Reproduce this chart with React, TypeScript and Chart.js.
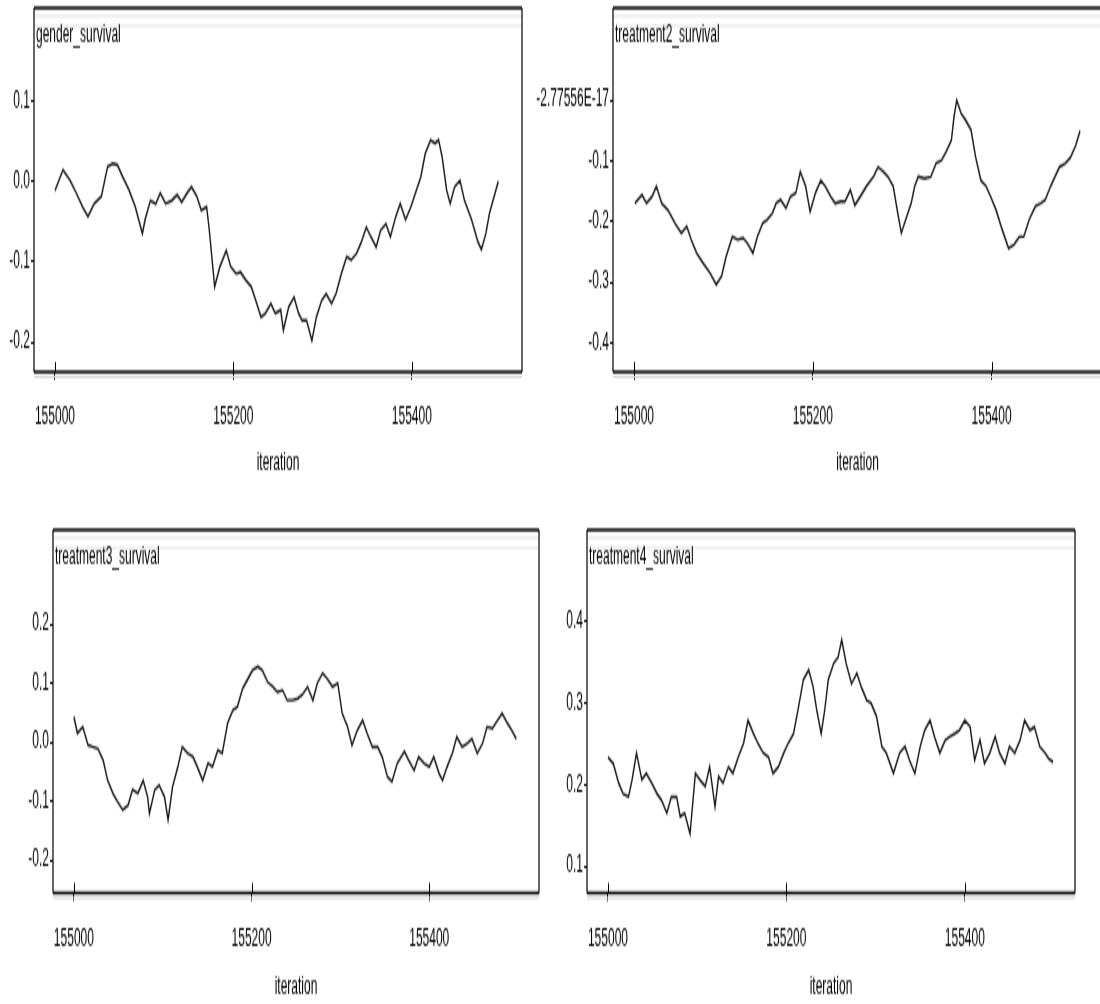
import React, { useEffect, useRef } from "react";
import { Chart, registerables } from "chart.js";

Chart.register(...registerables);

const FONT = "'Liberation Sans', Arial, Helvetica, sans-serif";
const firstIteration = 155000;

// x axis (shared)
const xTickValues = [155000, 155200, 155400];
const xTickLabels = ["155000", "155200", "155400"];
const xMin = 154976.5;
const xMax = 155523.5;

// gender_survival
const genderIterOffset = [0, 9, 17, 24, 31, 37, 44, 52, 59, 65, 70, 76, 83, 90, 98, 101, 107, 113, 118, 124, 131, 137, 142, 148, 153, 159, 164, 170, 173, 179, 185, 192, 197, 203, 208, 214, 220, 225, 231, 236, 242, 247, 253, 256, 262, 268, 273, 277, 282, 288, 293, 299, 304, 310, 315, 321, 327, 332, 338, 343, 349, 354, 360, 365, 371, 376, 382, 387, 393, 399, 404, 410, 415, 421, 426, 430, 434, 439, 443, 448, 454, 459, 467, 474, 478, 483, 487, 492, 497];
const genderValues = [-0.012, 0.014, 0.001, -0.015, -0.032, -0.044, -0.028, -0.019, 0.018, 0.022, 0.02, 0.005, -0.011, -0.032, -0.065, -0.048, -0.024, -0.028, -0.015, -0.028, -0.024, -0.017, -0.026, -0.015, -0.007, -0.019, -0.036, -0.032, -0.061, -0.131, -0.106, -0.086, -0.106, -0.115, -0.113, -0.123, -0.131, -0.148, -0.169, -0.164, -0.152, -0.164, -0.16, -0.185, -0.156, -0.144, -0.164, -0.173, -0.173, -0.198, -0.169, -0.148, -0.14, -0.152, -0.14, -0.115, -0.094, -0.098, -0.09, -0.077, -0.057, -0.069, -0.082, -0.061, -0.053, -0.069, -0.044, -0.028, -0.048, -0.032, -0.015, 0.005, 0.034, 0.051, 0.047, 0.051, 0.03, -0.011, -0.028, -0.007, 0.001, -0.024, -0.048, -0.075, -0.085, -0.065, -0.04, -0.02, 0.0];
const genderYTicks = [0.1, 0, -0.1, -0.2];
const genderYLabels = ["0.1", "0.0", "-0.1", "-0.2"];

// treatment2_survival
const t2IterOffset = [1, 9, 14, 20, 25, 31, 38, 46, 53, 59, 64, 70, 77, 85, 92, 98, 103, 110, 116, 122, 127, 133, 138, 144, 149, 155, 159, 164, 170, 175, 181, 186, 192, 197, 203, 209, 214, 220, 225, 231, 236, 242, 247, 253, 260, 268, 273, 279, 284, 290, 295, 299, 305, 310, 314, 318, 325, 332, 338, 344, 349, 355, 358, 361, 366, 371, 377, 382, 388, 394, 399, 405, 412, 419, 425, 431, 436, 442, 449, 455, 460, 466, 471, 476, 482, 488, 494, 499];
const t2Values = [-0.17, -0.156, -0.17, -0.159, -0.142, -0.17, -0.181, -0.203, -0.219, -0.208, -0.23, -0.252, -0.268, -0.285, -0.304, -0.29, -0.258, -0.225, -0.23, -0.227, -0.236, -0.252, -0.225, -0.203, -0.197, -0.186, -0.17, -0.164, -0.178, -0.159, -0.153, -0.118, -0.142, -0.184, -0.153, -0.132, -0.142, -0.159, -0.17, -0.167, -0.167, -0.148, -0.173, -0.159, -0.142, -0.126, -0.11, -0.118, -0.126, -0.142, -0.186, -0.219, -0.192, -0.17, -0.142, -0.126, -0.129, -0.126, -0.104, -0.099, -0.085, -0.066, -0.027, 0.0, -0.022, -0.033, -0.049, -0.093, -0.132, -0.142, -0.159, -0.181, -0.214, -0.244, -0.238, -0.225, -0.225, -0.197, -0.175, -0.17, -0.164, -0.142, -0.126, -0.11, -0.105, -0.095, -0.075, -0.05];
const t2YTicks = [0, -0.1, -0.2, -0.3, -0.4];
const t2YLabels = ["-2.77556E-17", "-0.1", "-0.2", "-0.3", "-0.4"];

// treatment3_survival
const t3IterOffset = [0, 4, 10, 16, 21, 27, 33, 38, 44, 49, 55, 61, 66, 72, 78, 83, 85, 91, 96, 102, 106, 111, 117, 122, 128, 134, 139, 145, 151, 156, 162, 167, 173, 179, 184, 190, 195, 201, 207, 212, 218, 224, 229, 235, 240, 246, 252, 257, 263, 269, 274, 280, 285, 291, 297, 302, 308, 313, 319, 325, 330, 336, 342, 347, 353, 358, 364, 372, 377, 383, 388, 394, 400, 405, 411, 415, 420, 426, 431, 437, 443, 448, 454, 460, 465, 471, 476, 482, 488, 493, 498];
const t3Values = [0.043, 0.015, 0.026, -0.005, -0.008, -0.011, -0.031, -0.065, -0.087, -0.101, -0.115, -0.107, -0.081, -0.087, -0.065, -0.093, -0.121, -0.081, -0.073, -0.093, -0.132, -0.076, -0.042, -0.008, -0.019, -0.025, -0.042, -0.065, -0.036, -0.042, -0.014, -0.019, 0.032, 0.054, 0.06, 0.091, 0.105, 0.122, 0.128, 0.122, 0.102, 0.094, 0.085, 0.088, 0.071, 0.071, 0.074, 0.08, 0.094, 0.071, 0.1, 0.117, 0.108, 0.094, 0.1, 0.049, 0.026, -0.005, 0.02, 0.037, 0.015, -0.008, -0.008, -0.025, -0.059, -0.067, -0.036, -0.016, -0.031, -0.048, -0.025, -0.036, -0.042, -0.025, -0.053, -0.065, -0.042, -0.019, 0.009, -0.008, -0.002, 0.006, -0.019, -0.002, 0.026, 0.023, 0.035, 0.049, 0.032, 0.02, 0.005];
const t3YTicks = [0.2, 0.1, 0, -0.1, -0.2];
const t3YLabels = ["0.2", "0.1", "0.0", "-0.1", "-0.2"];

// treatment4_survival
const t4IterOffset = [0, 6, 12, 17, 23, 27, 32, 38, 43, 49, 55, 60, 66, 71, 77, 81, 86, 92, 98, 103, 109, 114, 120, 124, 129, 135, 140, 146, 152, 157, 163, 168, 174, 180, 185, 191, 197, 202, 208, 213, 219, 225, 230, 234, 239, 243, 247, 253, 258, 262, 267, 273, 279, 284, 290, 295, 301, 307, 312, 320, 327, 333, 338, 344, 350, 355, 361, 366, 372, 378, 383, 389, 394, 400, 406, 411, 417, 422, 428, 434, 439, 445, 450, 456, 462, 467, 473, 478, 484, 490, 494, 499];
const t4Values = [0.234, 0.226, 0.202, 0.189, 0.185, 0.206, 0.239, 0.206, 0.214, 0.202, 0.189, 0.181, 0.165, 0.185, 0.185, 0.161, 0.165, 0.14, 0.214, 0.206, 0.198, 0.222, 0.173, 0.21, 0.202, 0.222, 0.214, 0.234, 0.251, 0.279, 0.263, 0.251, 0.239, 0.234, 0.214, 0.222, 0.239, 0.251, 0.263, 0.292, 0.329, 0.341, 0.32, 0.292, 0.263, 0.292, 0.329, 0.349, 0.357, 0.378, 0.349, 0.324, 0.337, 0.32, 0.304, 0.3, 0.284, 0.247, 0.239, 0.214, 0.239, 0.247, 0.23, 0.214, 0.247, 0.267, 0.279, 0.259, 0.239, 0.255, 0.259, 0.263, 0.267, 0.279, 0.271, 0.23, 0.255, 0.226, 0.239, 0.259, 0.239, 0.226, 0.247, 0.239, 0.255, 0.279, 0.267, 0.271, 0.247, 0.239, 0.232, 0.228];
const t4YTicks = [0.4, 0.3, 0.2, 0.1];
const t4YLabels = ["0.4", "0.3", "0.2", "0.1"];

type PanelCfg = {
  title: string;
  iter: number[];
  values: number[];
  yMin: number;
  yMax: number;
  yTicks: number[];
  yLabels: string[];
  left: number;
  top: number;
  width: number;
  height: number;
  areaLeft: number;
  areaRight: number;
  areaTop: number;
  areaBottom: number;
  xLabelPad: number;
  xTitlePad: number;
};

const panels: PanelCfg[] = [
  {
    title: "gender_survival", iter: genderIterOffset, values: genderValues,
    yMin: -0.237, yMax: 0.215, yTicks: genderYTicks, yLabels: genderYLabels,
    left: 0, top: 0, width: 550, height: 245,
    areaLeft: 34, areaRight: 522, areaTop: 4, areaBottom: 186, xLabelPad: 11, xTitlePad: 6,
  },
  {
    title: "treatment2_survival", iter: t2IterOffset, values: t2Values,
    yMin: -0.448, yMax: 0.152, yTicks: t2YTicks, yLabels: t2YLabels,
    left: 500, top: 0, width: 610, height: 245,
    areaLeft: 113, areaRight: 602, areaTop: 4, areaBottom: 186, xLabelPad: 11, xTitlePad: 6,
  },
  {
    title: "treatment3_survival", iter: t3IterOffset, values: t3Values,
    yMin: -0.256, yMax: 0.36, yTicks: t3YTicks, yLabels: t3YLabels,
    left: 0, top: 490, width: 550, height: 257,
    areaLeft: 53, areaRight: 539, areaTop: 20, areaBottom: 201.5, xLabelPad: 12, xTitlePad: 1.5,
  },
  {
    title: "treatment4_survival", iter: t4IterOffset, values: t4Values,
    yMin: 0.067, yMax: 0.513, yTicks: t4YTicks, yLabels: t4YLabels,
    left: 550, top: 490, width: 550, height: 257,
    areaLeft: 37, areaRight: 525, areaTop: 20, areaBottom: 201.5, xLabelPad: 12, xTitlePad: 1.5,
  },
];

function makeFramePlugin(title: string) {
  return {
    id: "traceFrame",
    beforeDatasetsDraw(chart: any) {
      const { ctx, chartArea } = chart;
      const { left, right, top } = chartArea;
      ctx.save();
      ctx.strokeStyle = "#e4e4e4";
      ctx.lineWidth = 1;
      [top + 4, top + 9].forEach((y: number) => {
        ctx.beginPath();
        ctx.moveTo(left, y);
        ctx.lineTo(right, y);
        ctx.stroke();
      });
      ctx.restore();
    },
    afterDraw(chart: any) {
      const { ctx, chartArea } = chart;
      const { left, right, top, bottom } = chartArea;
      ctx.save();
      // light shadow under the bottom axis
      ctx.strokeStyle = "#d6d6d6";
      ctx.lineWidth = 1;
      ctx.beginPath();
      ctx.moveTo(left, bottom + 2.5);
      ctx.lineTo(right, bottom + 2.5);
      ctx.stroke();
      // frame
      ctx.strokeStyle = "#000";
      ctx.lineWidth = 1.2;
      ctx.beginPath();
      ctx.moveTo(left, top);
      ctx.lineTo(left, bottom);
      ctx.moveTo(right, top);
      ctx.lineTo(right, bottom);
      ctx.stroke();
      ctx.lineWidth = 1.6;
      ctx.beginPath();
      ctx.moveTo(left, top);
      ctx.lineTo(right, top);
      ctx.moveTo(left, bottom);
      ctx.lineTo(right, bottom);
      ctx.stroke();
      // inner part of x tick marks
      const xs = chart.scales.x;
      ctx.lineWidth = 1;
      xs.ticks.forEach((t: any) => {
        const px = Math.round(xs.getPixelForValue(t.value)) + 0.5;
        ctx.beginPath();
        ctx.moveTo(px, bottom - 5);
        ctx.lineTo(px, bottom);
        ctx.stroke();
      });
      // panel title
      ctx.fillStyle = "#000";
      ctx.font = `12px ${FONT}`;
      ctx.textAlign = "left";
      ctx.textBaseline = "middle";
      ctx.fillText(title, left + 2, top + 14);
      ctx.restore();
    },
  };
}

function TracePanel({ cfg }: { cfg: PanelCfg }) {
  const ref = useRef<HTMLCanvasElement | null>(null);

  useEffect(() => {
    if (!ref.current) return;
    const points = cfg.iter.map((off, k) => ({ x: firstIteration + off, y: cfg.values[k] }));
    const chart = new Chart(ref.current, {
      type: "line",
      data: {
        datasets: [
          {
            data: points,
            borderColor: "#1a1a1a",
            borderWidth: 1.4,
            pointRadius: 0,
            tension: 0,
            fill: false,
          },
        ],
      },
      options: {
        animation: false,
        responsive: false,
        devicePixelRatio: 1,
        events: [],
        layout: {
          autoPadding: false,
          padding: {
            left: 0,
            top: cfg.areaTop,
            right: cfg.width - cfg.areaRight,
            bottom: 0,
          },
        },
        plugins: {
          legend: { display: false },
          tooltip: { enabled: false },
          title: { display: false },
        },
        scales: {
          x: {
            type: "linear",
            min: xMin,
            max: xMax,
            afterBuildTicks: (s: any) => {
              s.ticks = xTickValues.map((v) => ({ value: v }));
            },
            afterFit: (s: any) => {
              s.height = cfg.height - cfg.areaBottom;
              s.paddingLeft = 0;
              s.paddingRight = 0;
            },
            ticks: {
              autoSkip: false,
              maxRotation: 0,
              minRotation: 0,
              padding: cfg.xLabelPad,
              color: "#000",
              font: { family: FONT, size: 12 },
              callback: (_v: any, i: number) => xTickLabels[i],
            },
            grid: {
              display: true,
              drawOnChartArea: false,
              drawTicks: true,
              tickLength: 4,
              color: "#000",
              lineWidth: 1,
            },
            border: { display: false },
            title: {
              display: true,
              text: "iteration",
              color: "#000",
              font: { family: FONT, size: 12 },
              padding: { top: 0, bottom: cfg.xTitlePad },
            },
          },
          y: {
            type: "linear",
            min: cfg.yMin,
            max: cfg.yMax,
            afterBuildTicks: (s: any) => {
              s.ticks = cfg.yTicks.map((v) => ({ value: v }));
            },
            afterFit: (s: any) => {
              s.width = cfg.areaLeft;
              s.paddingTop = 0;
              s.paddingBottom = 0;
            },
            ticks: {
              padding: 1,
              color: "#000",
              font: { family: FONT, size: 12 },
              callback: (_v: any, i: number) => cfg.yLabels[i],
            },
            grid: {
              display: true,
              drawOnChartArea: false,
              drawTicks: true,
              tickLength: 3,
              color: "#000",
              lineWidth: 1,
            },
            border: { display: false },
          },
        },
      },
      plugins: [makeFramePlugin(cfg.title)],
    } as any);
    return () => chart.destroy();
  }, [cfg]);

  return (
    <canvas
      ref={ref}
      width={cfg.width}
      height={cfg.height}
      style={{
        position: "absolute",
        left: cfg.left,
        top: cfg.top,
        width: cfg.width,
        height: cfg.height,
        transform: "scaleY(2)",
        transformOrigin: "0 0",
      }}
    />
  );
}

export default function App() {
  return (
    <div
      style={{
        position: "absolute",
        left: 0,
        top: 0,
        width: 1100,
        height: 1004,
        overflow: "hidden",
        background: "#fff",
      }}
    >
      {panels.map((p) => (
        <TracePanel key={p.title} cfg={p} />
      ))}
    </div>
  );
}
